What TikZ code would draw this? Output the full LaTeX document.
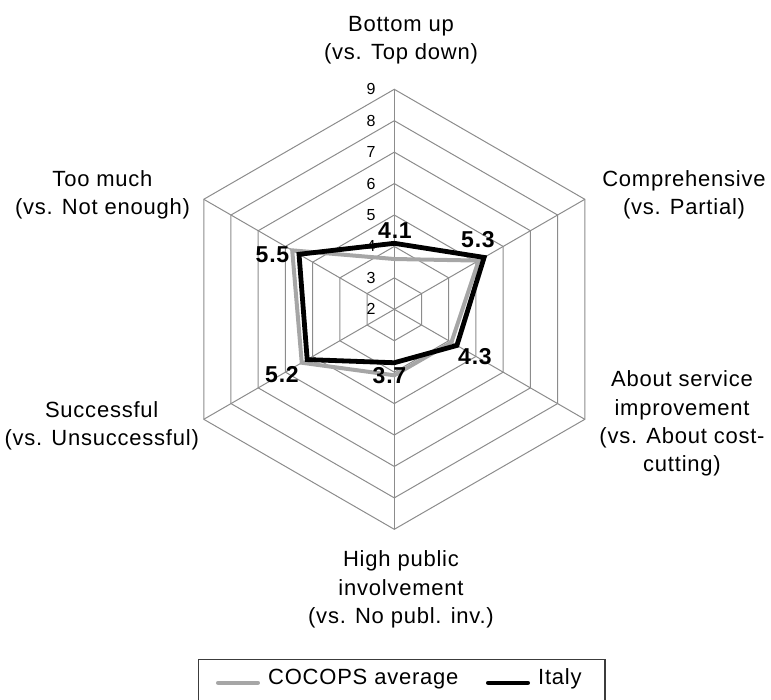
\documentclass[tikz,border=0pt]{standalone}
\usepackage{fontspec}
\setmainfont{Liberation Sans}[LetterSpace=3.5]
\definecolor{gridgray}{RGB}{140,140,140}
\definecolor{avggray}{RGB}{166,166,166}
\definecolor{boxgray}{RGB}{60,60,60}
\begin{document}
\begin{tikzpicture}[x=1pt,y=1pt,
  grid/.style={draw=gridgray, line width=1pt},
  avg/.style={draw=avggray, line width=4pt, line join=miter},
  ita/.style={draw=black, line width=4.8pt, line join=miter},
  axlab/.style={font=\fontsize{22}{26}\selectfont, inner sep=0pt, anchor=base},
  tick/.style={font=\fontsize{16}{18}\selectfont, inner sep=0pt, anchor=east},
  val/.style={font=\fontsize{23}{27}\selectfont\bfseries, inner sep=0pt},
  legtext/.style={font=\fontsize{22}{26}\selectfont, inner sep=0pt, anchor=base west}]
\def\u{31.4286}
\useasboundingbox (-394.3,-389.7) rectangle (376.7,309.3);
% grid hexagons
\foreach \k in {1,...,7}
  \draw[grid] (90:{\k*\u}) -- (30:{\k*\u}) -- (-30:{\k*\u}) -- (-90:{\k*\u}) -- (-150:{\k*\u}) -- (150:{\k*\u}) -- cycle;
% spokes
\coordinate (c) at (0,0);
\foreach \a/\n in {90/a1,30/a2,-30/a3,-90/a4,-150/a5,150/a6} {
  \coordinate (\n) at (\a:220);
  \draw[grid] (c) -- (\n);
}
% tick labels
\foreach \v in {2,...,9}
  \node[tick] (t\v) at (-18.6,{(\v-2)*\u}) {\v};
% series
\draw[avg] (90:{1.6*\u}) -- (30:{3.1*\u}) -- (-30:{2.1*\u}) -- (-90:{2.1*\u}) -- (-150:{3.4*\u}) -- (150:{3.75*\u}) -- cycle;
\draw[ita] (90:{2.1*\u}) -- (30:{3.3*\u}) -- (-30:{2.3*\u}) -- (-90:{1.7*\u}) -- (-150:{3.2*\u}) -- (150:{3.5*\u}) -- cycle;
% value labels
\node[val] (v1) at (0.7,78.8) {4.1};
\node[val] (v2) at (83.7,69.3) {5.3};
\node[val] (v3) at (80.7,-47.7) {4.3};
\node[val] (v4) at (-4.8,-66.7) {3.7};
\node[val] (v5) at (-112.3,-65.7) {5.2};
\node[val] (v6) at (-121.8,54.3) {5.5};
% axis labels
\node[axlab] (l1a) at (6.7,277.6) {Bottom up};
\node[axlab] (l1b) at (6.7,249.3) {(vs. Top down)};
\node[axlab] (l2a) at (289.7,122.6) {Comprehensive};
\node[axlab] (l2b) at (289.7,94.3) {(vs. Partial)};
\node[axlab] (l3a) at (287.7,-77.4) {About service};
\node[axlab] (l3b) at (287.7,-105.7) {improvement};
\node[axlab] (l3c) at (287.7,-134) {(vs. About cost-};
\node[axlab] (l3d) at (287.7,-162.4) {cutting)};
\node[axlab] (l4a) at (6.7,-257.4) {High public};
\node[axlab] (l4b) at (6.7,-285.7) {involvement};
\node[axlab] (l4c) at (6.7,-314) {(vs. No publ. inv.)};
\node[axlab] (l5a) at (-292.6,-108) {Successful};
\node[axlab] (l5b) at (-292.6,-135.7) {(vs. Unsuccessful)};
\node[axlab] (l6a) at (-291.8,122.6) {Too much};
\node[axlab] (l6b) at (-291.8,94.3) {(vs. Not enough)};
% legend
\draw[draw=boxgray, line width=1.2pt] (-196,-395) -- (-196,-350) -- (210.7,-350) -- (210.7,-395);
\coordinate (g1) at (-176.3,-373.4);
\coordinate (g2) at (-136.3,-373.4);
\coordinate (k1) at (93.7,-373.4);
\coordinate (k2) at (133.7,-373.4);
\draw[avg, line cap=round] (g1) -- (g2);
\draw[ita, line width=4pt, line cap=round] (k1) -- (k2);
\node[legtext] (lg1) at (-126.3,-375) {COCOPS average};
\node[legtext] (lg2) at (143.7,-375) {Italy};
\end{tikzpicture}
\end{document}
